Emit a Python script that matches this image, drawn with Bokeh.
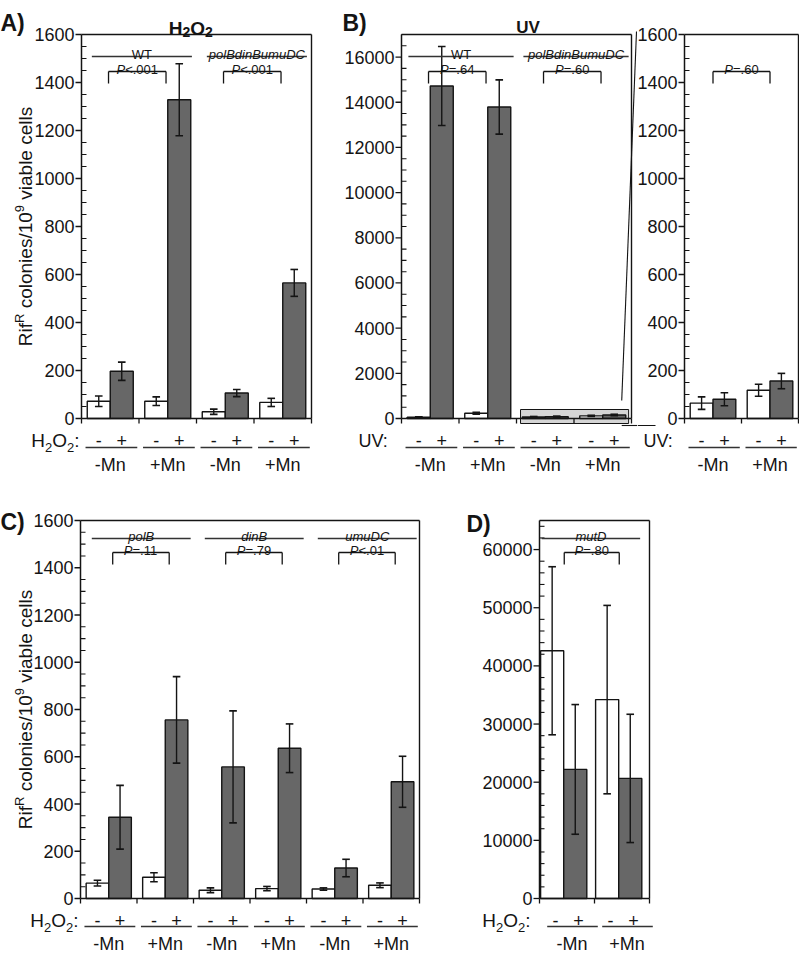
import math
from bokeh.plotting import figure
from bokeh.models import Range1d
from bokeh.layouts import row, column
from bokeh.embed import file_html
from bokeh.resources import INLINE
from bokeh.core.properties import value

# ---------------- data ----------------
# A) H2O2
a_strains = ["WT", "polBdinBumuDC"]
a_mn = ["-Mn", "+Mn", "-Mn", "+Mn"]
a_minus = [72, 72, 28, 67]
a_minus_err = [22, 18, 11, 17]
a_plus = [197, 1328, 106, 565]
a_plus_err = [38, 150, 15, 56]
a_pvals = ["P<.001", "P<.001"]
a_yticks = [0, 200, 400, 600, 800, 1000, 1200, 1400, 1600]

# B) UV (WT part; polBdinBumuDC part = inset data)
b_strains = ["WT", "polBdinBumuDC"]
b_mn = ["-Mn", "+Mn", "-Mn", "+Mn"]
b_wt_minus = [60, 230]
b_wt_minus_err = [10, 40]
b_wt_plus = [14720, 13790]
b_wt_plus_err = [1750, 1200]
b_pvals = ["P=.64", "P=.60"]
b_yticks = [0, 2000, 4000, 6000, 8000, 10000, 12000, 14000, 16000]

# B) inset: polBdinBumuDC, UV
i_mn = ["-Mn", "+Mn"]
i_minus = [64, 118]
i_minus_err = [26, 25]
i_plus = [80, 156]
i_plus_err = [27, 32]
i_pvals = ["P=.60"]
i_yticks = [0, 200, 400, 600, 800, 1000, 1200, 1400, 1600]

# C) H2O2, single mutants
c_strains = ["polB", "dinB", "umuDC"]
c_mn = ["-Mn", "+Mn", "-Mn", "+Mn", "-Mn", "+Mn"]
c_minus = [65, 90, 35, 42, 40, 56]
c_minus_err = [12, 19, 10, 9, 5, 10]
c_plus = [344, 756, 557, 636, 129, 494]
c_plus_err = [135, 183, 237, 103, 37, 108]
c_pvals = ["P=.11", "P=.79", "P<.01"]
c_yticks = [0, 200, 400, 600, 800, 1000, 1200, 1400, 1600]

# D) mutD, H2O2
d_strains = ["mutD"]
d_mn = ["-Mn", "+Mn"]
d_minus = [42600, 34200]
d_minus_err = [14450, 16200]
d_plus = [22200, 20650]
d_plus_err = [11150, 11030]
d_pvals = ["P=.80"]
d_yticks = [0, 10000, 20000, 30000, 40000, 50000, 60000]

# ---------------- style helpers ----------------
FONT = "Liberation Sans"
INK = "#141414"
GRAY = "#676767"

REG = {' ': 278, '(': 333, ')': 333, '+': 584, '-': 333, '.': 278, '/': 278, ':': 278,
       '<': 584, '=': 584, 'A': 667, 'B': 667, 'C': 722, 'D': 722, 'H': 722, 'M': 833,
       'O': 778, 'P': 667, 'R': 722, 'T': 611, 'U': 722, 'V': 667, 'W': 944, 'a': 556,
       'b': 556, 'c': 500, 'd': 556, 'e': 556, 'f': 278, 'i': 222, 'l': 222, 'm': 833,
       'n': 556, 'o': 556, 'p': 556, 's': 500, 'u': 556, 'v': 500}
BOLD = {'A': 722, 'B': 722, 'C': 722, 'D': 722, ')': 333, 'H': 722, 'O': 778,
        'U': 722, 'V': 667, '2': 556}


def tw(s, size, bold=False):
    t = BOLD if bold else REG
    return sum(t.get(c, REG.get(c, 556)) for c in s) * size / 1000.0


def txt(p, xs, ys, texts, size, bold=False, italic=False, align="left", baseline="alphabetic", angle=0.0):
    style = "bold" if bold else ("italic" if italic else "normal")
    p.text(x=xs, y=ys, text=texts, angle=angle, text_font=value(FONT), text_font_size=f"{size}px",
           text_font_style=style, text_color=INK, text_align=align, text_baseline=baseline)


def rich(p, x, y, parts, sx, sy, align="left", rotated=False, baseline="alphabetic"):
    # parts: (text, size, bold, italic, rise_px)
    total = sum(tw(t, s, b) for t, s, b, i, r in parts)
    cum = {"left": 0.0, "right": -total, "center": -total / 2.0}[align]
    for t, s, b, it, r in parts:
        lead = len(t) - len(t.lstrip(" "))
        off = cum + tw(" " * lead, s, b)
        body = t.strip(" ")
        if rotated:
            txt(p, [x - r / sx], [y + off / sy], [body], s, b, it, baseline=baseline, angle=math.pi / 2)
        else:
            txt(p, [x + off / sx], [y + r / sy], [body], s, b, it, baseline=baseline)
        cum += tw(t, s, b)


H2O2_ROW = [("H", 19, False, False, 0), ("2", 13, False, False, -7), ("O", 19, False, False, 0),
            ("2", 13, False, False, -7), (":", 19, False, False, 0)]
UV_ROW = [("UV:", 18, False, False, 0)]
YLAB = [("Rif", 19, False, False, 0), ("R", 13, False, False, 6), (" colonies/10", 19, False, False, 0),
        ("9", 13, False, False, 6), (" viable cells", 19, False, False, 0)]


def build(cfg, minus, minus_err, plus, plus_err, mn, strains, pvals, yticks):
    n = len(minus)
    gw, top, ppx = cfg["gw"], cfg["top"], cfg["ppx"]
    sx, sy = gw, ppx / top
    bl, pad, above, below = cfg["bl"], cfg["pad"], cfg["above"], cfg["below"]
    rs, ru, rm = cfg["rows"]
    p = figure(frame_width=int(round(bl + n * gw + pad)), frame_height=int(round(above + ppx + below)),
               x_range=Range1d(-bl / sx, n + pad / sx),
               y_range=Range1d(-below / sy, top + above / sy),
               min_border=0, min_border_left=0, min_border_right=0, min_border_top=0,
               min_border_bottom=0, output_backend="svg", toolbar_location=None,
               x_axis_location=None, y_axis_location=None)
    p.outline_line_color = None
    p.background_fill_color = "white"
    p.xgrid.visible = False
    p.ygrid.visible = False

    if cfg.get("zoom"):
        p.quad(left=[2 + 0.07], right=[n - 0.05], bottom=[-5 / sy], top=[9 / sy],
               fill_color="#d5d5d5", line_color=INK, line_width=1)

    g = list(range(n))
    wc = [i + cfg["wc"] for i in g]
    gc = [i + cfg["gc"] for i in g]
    p.vbar(x=wc, top=minus, bottom=0, width=cfg["bw"], fill_color="white", line_color=INK, line_width=1.4)
    p.vbar(x=gc, top=plus, bottom=0, width=cfg["bw"], fill_color=GRAY, line_color=INK, line_width=1.4)

    xs = wc + gc
    ms = minus + plus
    es = minus_err + plus_err
    lo = [m - e for m, e in zip(ms, es)]
    hi = [m + e for m, e in zip(ms, es)]
    cap = 3.8 / sx
    p.segment(x0=xs, y0=lo, x1=xs, y1=hi, line_color=INK, line_width=1.4)
    p.segment(x0=[x - cap for x in xs] * 2, y0=lo + hi, x1=[x + cap for x in xs] * 2, y1=lo + hi,
              line_color=INK, line_width=1.6)

    # y axis: line, major ticks (out), minor ticks (in), tick labels
    p.segment(x0=[0], y0=[0], x1=[0], y1=[top], line_color=INK, line_width=1.5)
    p.segment(x0=[-6 / sx] * len(yticks), y0=yticks, x1=[0] * len(yticks), y1=yticks,
              line_color=INK, line_width=1.3)
    step = cfg["mstep"]
    minors = [k * step for k in range(int(top // step) + 1) if (k * step) not in yticks]
    p.segment(x0=[0] * len(minors), y0=minors, x1=[5 / sx] * len(minors), y1=minors,
              line_color=INK, line_width=1.1)
    txt(p, [-7 / sx] * len(yticks), yticks, [str(v) for v in yticks], 18, align="right", baseline="middle")

    # box (top & right) and x baseline with ticks
    p.segment(x0=[0, 0, n], y0=[0, top, 0], x1=[n, n, n], y1=[0, top, top], line_color=INK, line_width=1.4)
    tk = list(range(n + 1))
    p.segment(x0=tk, y0=[0] * (n + 1), x1=tk, y1=[-5 / sy] * (n + 1), line_color=INK, line_width=1.3)

    # treatment signs, underlines, Mn labels
    txt(p, [v + cfg["ls"] for v in wc] + [v + cfg["ls"] for v in gc], [-rs / sy] * (2 * n),
        ["-"] * n + ["+"] * n, 18, align="center")
    p.segment(x0=[i + cfg["ul"][0] for i in g], y0=[-ru / sy] * n, x1=[i + cfg["ul"][1] for i in g],
              y1=[-ru / sy] * n, line_color="#333333", line_width=1.4)
    txt(p, [i + cfg["mc"] for i in g], [-rm / sy] * n, mn, 18, align="center")

    # strain labels
    if strains:
        ys = top - cfg["spx"] / sy
        x0 = [2 * k + cfg["sl"][0] for k in range(len(strains))]
        x1 = [2 * k + 1 + cfg["sl"][1] for k in range(len(strains))]
        p.segment(x0=x0, y0=[ys] * len(strains), x1=x1, y1=[ys] * len(strains), line_color="#333333",
                  line_width=1.3)
        for a, b, s in zip(x0, x1, strains):
            txt(p, [(a + b) / 2], [ys + 2 / sy], [s], 13, italic=(s != "WT"), align="center")

    # P-value brackets
    yt = top - cfg["bpx"] / sy
    yl = yt - 12 / sy
    for k, pv in enumerate(pvals):
        xa = 2 * k + 0.5 + cfg["bs"]
        xb = 2 * k + 1.5 + cfg["bs"]
        p.segment(x0=[xa, xa, xb], y0=[yl, yt, yt], x1=[xa, xb, xb], y1=[yt, yt, yl],
                  line_color=INK, line_width=1.3)
        rich(p, (xa + xb) / 2, yt + 2 / sy, [(pv[0], 13, False, True, 0), (pv[1:], 13, False, False, 0)],
             sx, sy, align="center")

    # row label left of axis
    rich(p, -cfg["tdx"] / sx, -rs / sy, cfg["trow"], sx, sy, align="right")

    if cfg.get("letter"):
        txt(p, [-cfg["ldx"] / sx], [top + cfg["ldy"] / sy], [cfg["letter"]], 23, bold=True)
    if cfg.get("title"):
        rich(p, cfg["tx"], top + cfg["tdy"] / sy, cfg["title"], sx, sy, align="center")
    if cfg.get("ylab"):
        rich(p, -cfg["ylx"] / sx, top / 2, YLAB, sx, sy, align="center", rotated=True, baseline="middle")

    if cfg.get("zoom"):
        p.segment(x0=[n - 0.17, n - 0.17], y0=[18 / sy, -7 / sy], x1=[n + 5 / sx, n + pad / sx],
                  y1=[top + 3 / sy, -7 / sy], line_color=INK, line_width=1.1)
    if cfg.get("conn_in"):
        p.segment(x0=[-bl / sx], y0=[-7 / sy], x1=[(-bl + 18) / sx], y1=[-7 / sy],
                  line_color=INK, line_width=1.1)
    return p


STD = dict(wc=0.3, gc=0.7, bw=0.4, ls=0.0, ul=(0.07, 0.97), mc=0.5)
ROW1 = dict(above=34, ppx=384, below=57, rows=(22, 29, 46), spx=22, bpx=37)
ROW2 = dict(above=45, ppx=378, below=56, rows=(22, 28, 45), spx=18, bpx=32)

cfgA = dict(STD, **ROW1, gw=57.5, top=1600, pad=2, bl=81, mstep=50,
            sl=(0.18, 0.92), bs=-0.03, tdx=2, trow=H2O2_ROW,
            letter="A)", ldx=81, ldy=12, ylab=True, ylx=56, tx=1.9, tdy=6,
            title=[("H", 19, True, False, 0), ("2", 14, True, False, -3), ("O", 19, True, False, 0),
                   ("2", 14, True, False, -3)])
cfgB = dict(STD, **ROW1, gw=57.5, top=17000, pad=6, bl=88, mstep=500,
            sl=(0.12, 0.95), bs=-0.03, tdx=13, trow=UV_ROW,
            letter="B)", ldx=59, ldy=12, tx=2.2, tdy=7, title=[("UV", 17, True, False, 0)], zoom=True)
cfgI = dict(STD, **ROW1, gw=57, top=1600, pad=1, bl=47, mstep=50,
            sl=(0.12, 0.95), bs=0.0, tdx=11, trow=UV_ROW, conn_in=True)
cfgC = dict(STD, **ROW2, gw=56.5, top=1600, pad=2, bl=80, mstep=50,
            sl=(0.2, 0.95), bs=0.07, tdx=2, trow=H2O2_ROW,
            letter="C)", ldx=80, ldy=-1, ylab=True, ylx=55)
cfgD = dict(**ROW2, gw=55, top=65000, pad=8, bl=118, mstep=2000,
            wc=0.23, gc=0.65, bw=0.42, ls=0.06, ul=(0.14, 1.06), mc=0.59,
            sl=(0.04, 0.83), bs=-0.05, tdx=9, trow=H2O2_ROW,
            letter="D)", ldx=73, ldy=-3)

pA = build(cfgA, a_minus, a_minus_err, a_plus, a_plus_err, a_mn, a_strains, a_pvals, a_yticks)
pB = build(cfgB, b_wt_minus + i_minus, b_wt_minus_err + i_minus_err, b_wt_plus + i_plus,
           b_wt_plus_err + i_plus_err, b_mn, b_strains, b_pvals, b_yticks)
pI = build(cfgI, i_minus, i_minus_err, i_plus, i_plus_err, i_mn, [], i_pvals, i_yticks)
pC = build(cfgC, c_minus, c_minus_err, c_plus, c_plus_err, c_mn, c_strains, c_pvals, c_yticks)
pD = build(cfgD, d_minus, d_minus_err, d_plus, d_plus_err, d_mn, d_strains, d_pvals, d_yticks)

layout = column(row(pA, pB, pI), row(pC, pD))
open("out.html", "w").write(file_html(layout, INLINE))
